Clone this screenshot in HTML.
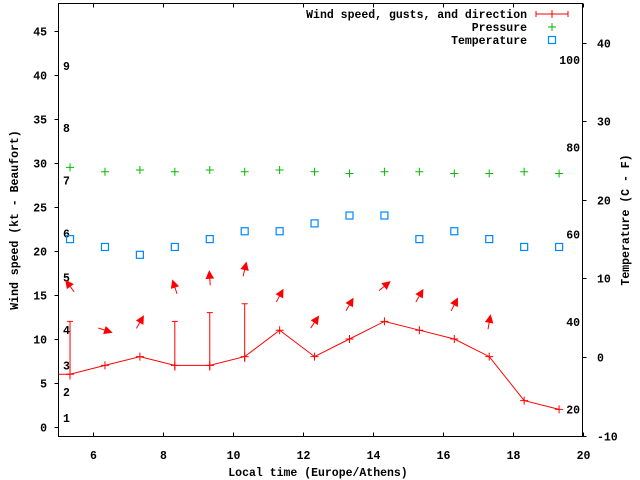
<!DOCTYPE html>
<html><head><meta charset="utf-8"><style>
html,body{margin:0;padding:0;background:#fff;}
svg{display:block;font-family:"Liberation Mono",monospace;font-weight:bold;font-size:11.5px;}
</style></head><body>
<svg id="c" width="640" height="480" xmlns="http://www.w3.org/2000/svg"></svg>
<script>
const times=[5.33,6.33,7.33,8.33,9.33,10.33,11.33,12.33,13.33,14.33,15.33,16.33,17.33,18.33,19.33];
const speed=[6,7,8,7,7,8,11,8,10,12,11,10,8,3,2];
const gust=[12,null,null,12,13,14,null,null,null,null,null,null,null,null,null];
const pressure=[29.5,29.0,29.2,29.0,29.2,29.0,29.2,29.0,28.8,29.0,29.0,28.8,28.8,29.0,28.8];
const tempC=[15,14,13,14,15,16,16,17,18,18,15,16,15,14,14];
const arrowLevel=[16,11,11.9,15.9,16.9,17.9,14.9,11.9,13.9,16,14.9,13.9,11.9];
const arrowDir=[324,108,30,342,356,13,28,34,30,51,30,27,10];
const xTicks=[6,8,10,12,14,16,18,20];
const yTicks=[0,5,10,15,20,25,30,35,40,45];
const cTicks=[-10,0,10,20,30,40];
const fTicks=[20,40,60,80,100];
const beaufortKt=[1,4,7,11,17,22,28,34,41];

const NS="http://www.w3.org/2000/svg";
const svg=document.getElementById('c');
const L=58.5,R=582.5,T=3.5,B=436.5;
const X=t=>L+(t-5)*(R-L)/15;
const Y=v=>427-v*8.8;
const YC=c=>357-c*7.86;
function el(tag,a,txt){const e=document.createElementNS(NS,tag);for(const k in a)e.setAttribute(k,a[k]);if(txt!==undefined)e.textContent=txt;svg.appendChild(e);return e;}

let e=el('rect',{x:L,y:T,width:R-L,height:B-T,fill:'none',stroke:'#000','stroke-width':1});



yTicks.forEach(v=>{
  const y=Math.round(Y(v))+.5;
  e=el('line',{x1:L-4,y1:y,x2:L,y2:y,stroke:'#000'});
  
  
  e=el('text',{x:47,y:y+4,'text-anchor':'end'},String(v));
  
  
});
xTicks.forEach(v=>{
  const x=Math.round(X(v))+.5;
  e=el('line',{x1:x,y1:B,x2:x,y2:B-4,stroke:'#000'});
  
  
  e=el('line',{x1:x,y1:T,x2:x,y2:T+4,stroke:'#000'});
  
  
  e=el('text',{x:x,y:459,'text-anchor':'middle'},String(v));
  
  
});
cTicks.forEach(v=>{
  const y=Math.round(YC(v))+.5;
  e=el('line',{x1:R,y1:y,x2:R+4,y2:y,stroke:'#000'});
  
  
  e=el('text',{x:597,y:y+4},String(v));
  
  
});
fTicks.forEach(f=>{
  const y=YC((f-32)*5/9);
  e=el('text',{x:580,y:y+4,'text-anchor':'end'},String(f));
  
  
});
beaufortKt.forEach((k,i)=>{
  e=el('text',{x:63,y:Y(k)+4},String(i+1));
  
  
});

e=el('text',{x:318,y:476,'text-anchor':'middle'},'Local time (Europe/Athens)');


e=el('text',{x:18,y:220,'text-anchor':'middle',transform:'rotate(-90 18 220)'},'Wind speed (kt - Beaufort)');


e=el('text',{x:629,y:220,'text-anchor':'middle',transform:'rotate(-90 629 220)'},'Temperature (C - F)');



// wind line
let pts=[[L,Y(speed[0])]].concat(times.map((t,i)=>[X(t),Y(speed[i])]));
e=el('polyline',{points:pts.map(p=>p.join(',')).join(' '),fill:'none',stroke:'#f00','stroke-width':1});


function plus(x,y,c,n){
  const g=el('path',{d:`M${x-4},${y}H${x+4}M${x},${y-4}V${y+4}`,stroke:c,'stroke-width':1,fill:'none'});
  
  
}
times.forEach((t,i)=>{
  plus(X(t),Y(speed[i]),'#f00','wind-point');
  if(gust[i]!==null){
    const x=X(t);
    e=el('path',{d:`M${x},${Y(speed[i]-0.6)}V${Y(gust[i])}M${x-3},${Y(gust[i])}H${x+3}`,stroke:'#f00',fill:'none'});
    
    
  }
  plus(X(t),Y(pressure[i]),'#0b0','pressure-point');
  e=el('rect',{x:X(t)-3.5,y:YC(tempC[i])-3.5,width:7,height:7,fill:'none',stroke:'#08f','stroke-width':1.2});
  
  
});
arrowDir.forEach((d,i)=>{
  const cx=X(times[i]),cy=Y(arrowLevel[i]);
  const a=d*Math.PI/180,dx=Math.sin(a),dy=-Math.cos(a);
  const tx=cx-dx*7,ty=cy-dy*7,hx=cx+dx*7,hy=cy+dy*7;
  const px=-dy,py=dx;
  const bx=hx-dx*7,by=hy-dy*7;
  e=el('path',{d:`M${tx},${ty}L${hx},${hy}M${hx},${hy}L${bx+px*3.5},${by+py*3.5}L${bx-px*3.5},${by-py*3.5}Z`,stroke:'#f00',fill:'#f00','stroke-width':1});
  
  
});

// legend
const leg=[['Wind speed, gusts, and direction',14],['Pressure',27],['Temperature',40]];
leg.forEach(([s,y])=>{
  e=el('text',{x:527,y:y+4,'text-anchor':'end'},s);
  
  
});
e=el('path',{d:'M536,14H568M536,11V17M568,11V17M552,10V18',stroke:'#f00',fill:'none'});


plus(552,27,'#0b0','legend-pressure-sample');
e=el('rect',{x:548.5,y:36.5,width:7,height:7,fill:'none',stroke:'#08f','stroke-width':1.2});


</script>
</body></html>
